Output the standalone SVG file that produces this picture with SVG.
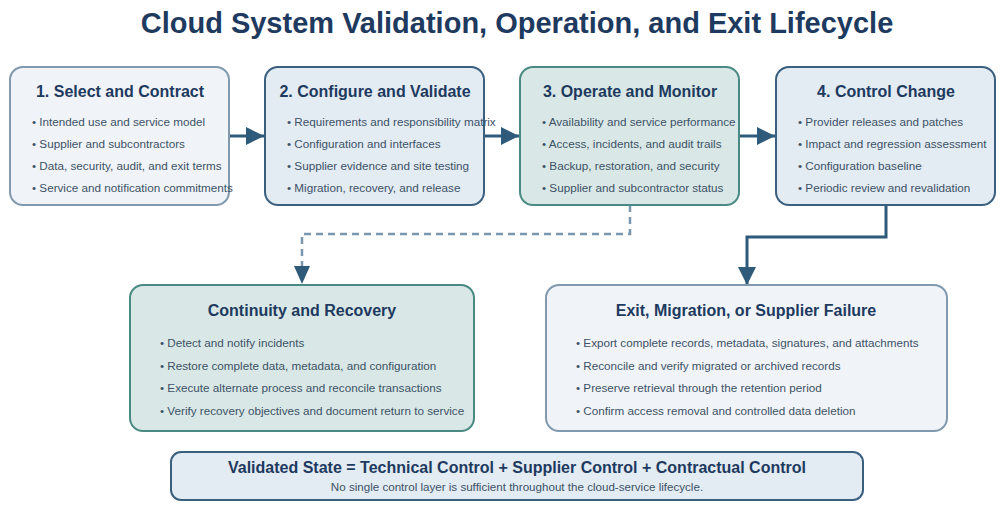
<svg xmlns="http://www.w3.org/2000/svg" width="1000" height="509" viewBox="0 0 1000 509">
<defs>
<marker id="ah" markerUnits="userSpaceOnUse" markerWidth="18" markerHeight="18" refX="18" refY="9" orient="auto">
<path d="M0,0 L18,9 L0,18 z" fill="#2f5a7a"/>
</marker>
<marker id="ahd" markerUnits="userSpaceOnUse" markerWidth="18" markerHeight="16" refX="18" refY="8" orient="auto">
<path d="M0,0 L18,8 L0,16 z" fill="#2f5a7a"/>
</marker>
</defs>
<style>
.t{font-family:"Liberation Sans",Arial,sans-serif;}
.main{font-size:29px;font-weight:bold;fill:#1e3a5f;}
.h{font-size:16px;font-weight:bold;fill:#1e3a5f;text-anchor:middle;}
.b{font-size:11.7px;fill:#3d5266;}
.light{fill:#f0f4f8;stroke:#8199ad;stroke-width:2;}
.blue{fill:#e3ebf3;stroke:#3a5f7f;stroke-width:2;}
.teal{fill:#d9e8e6;stroke:#4a8a84;stroke-width:2;}
.c{fill:none;stroke:#2f5a7a;stroke-width:3;}
.d{fill:none;stroke:#7a97ad;stroke-width:2.5;stroke-dasharray:7,5;}
</style>
<rect width="1000" height="509" fill="#ffffff"/>
<text class="t main" x="517" y="33" text-anchor="middle">Cloud System Validation, Operation, and Exit Lifecycle</text>

<g id="connectors">
<line class="c" x1="229" y1="136" x2="264" y2="136" marker-end="url(#ah)"/>
<line class="c" x1="484" y1="136" x2="519" y2="136" marker-end="url(#ah)"/>
<line class="c" x1="739" y1="136" x2="775" y2="136" marker-end="url(#ah)"/>
<path class="d" d="M630,205 L630,234 L302,234 L302,284" marker-end="url(#ahd)"/>
<path class="c" d="M886,205 L886,237 L747,237 L747,285" marker-end="url(#ah)"/>
</g>

<g id="n1">
<rect class="light" x="10" y="67" width="219" height="138" rx="13"/>
<text class="t h" x="120" y="97">1. Select and Contract</text>
<text class="t b" x="32" y="126">• Intended use and service model</text>
<text class="t b" x="32" y="148">• Supplier and subcontractors</text>
<text class="t b" x="32" y="170">• Data, security, audit, and exit terms</text>
<text class="t b" x="32" y="192">• Service and notification commitments</text>
</g>
<g id="n2">
<rect class="blue" x="265" y="67" width="219" height="138" rx="13"/>
<text class="t h" x="375" y="97">2. Configure and Validate</text>
<text class="t b" x="287" y="126">• Requirements and responsibility matrix</text>
<text class="t b" x="287" y="148">• Configuration and interfaces</text>
<text class="t b" x="287" y="170">• Supplier evidence and site testing</text>
<text class="t b" x="287" y="192">• Migration, recovery, and release</text>
</g>
<g id="n3">
<rect class="teal" x="520" y="67" width="219" height="138" rx="13"/>
<text class="t h" x="630" y="97">3. Operate and Monitor</text>
<text class="t b" x="542" y="126">• Availability and service performance</text>
<text class="t b" x="542" y="148">• Access, incidents, and audit trails</text>
<text class="t b" x="542" y="170">• Backup, restoration, and security</text>
<text class="t b" x="542" y="192">• Supplier and subcontractor status</text>
</g>
<g id="n4">
<rect class="blue" x="776" y="67" width="219" height="138" rx="13"/>
<text class="t h" x="886" y="97">4. Control Change</text>
<text class="t b" x="798" y="126">• Provider releases and patches</text>
<text class="t b" x="798" y="148">• Impact and regression assessment</text>
<text class="t b" x="798" y="170">• Configuration baseline</text>
<text class="t b" x="798" y="192">• Periodic review and revalidation</text>
</g>
<g id="n5">
<rect class="teal" x="130" y="285" width="344" height="146" rx="13"/>
<text class="t h" x="302" y="316">Continuity and Recovery</text>
<text class="t b" x="160" y="347">• Detect and notify incidents</text>
<text class="t b" x="160" y="370">• Restore complete data, metadata, and configuration</text>
<text class="t b" x="160" y="392">• Execute alternate process and reconcile transactions</text>
<text class="t b" x="160" y="415">• Verify recovery objectives and document return to service</text>
</g>
<g id="n6">
<rect class="light" x="546" y="285" width="401" height="146" rx="13"/>
<text class="t h" x="746" y="316">Exit, Migration, or Supplier Failure</text>
<text class="t b" x="576" y="347">• Export complete records, metadata, signatures, and attachments</text>
<text class="t b" x="576" y="370">• Reconcile and verify migrated or archived records</text>
<text class="t b" x="576" y="392">• Preserve retrieval through the retention period</text>
<text class="t b" x="576" y="415">• Confirm access removal and controlled data deletion</text>
</g>
<g id="n7">
<rect class="blue" x="171" y="452" width="692" height="48" rx="10"/>
<text class="t h" x="517" y="473" style="font-size:16px">Validated State = Technical Control + Supplier Control + Contractual Control</text>
<text class="t" x="517" y="491" text-anchor="middle" style="font-size:11.6px;fill:#3d5266">No single control layer is sufficient throughout the cloud-service lifecycle.</text>
</g>
</svg>
